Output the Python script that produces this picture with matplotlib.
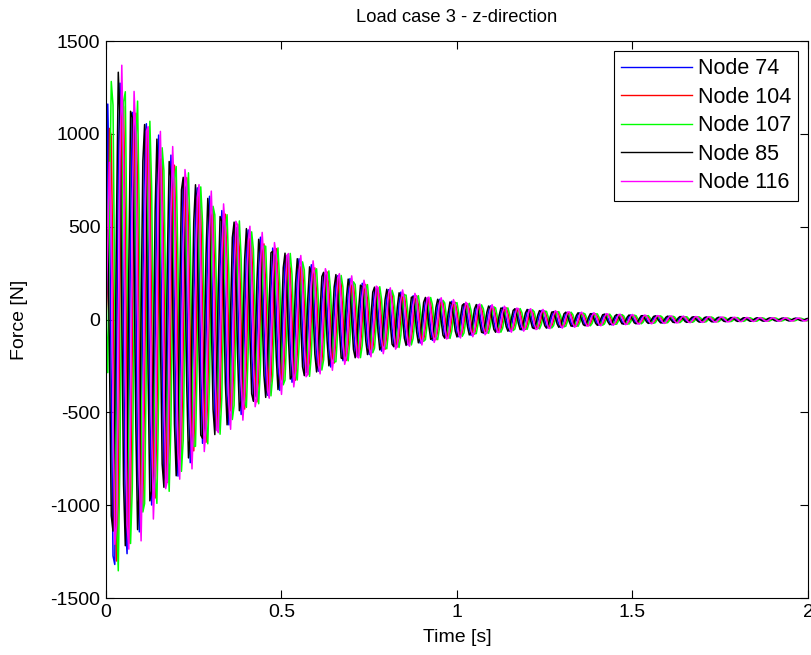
import numpy as np
import matplotlib
matplotlib.use("Agg")
from matplotlib import pyplot as plt

plt.rcParams['font.family'] = ['Liberation Sans', 'DejaVu Sans']
plt.rcParams['axes.unicode_minus'] = False

# values
nodes = ["Node 74", "Node 104", "Node 107", "Node 85", "Node 116"]
colors = ["#0000ff", "#ff0000", "#00ff00", "#000000", "#ff00ff"]
amp_force = [1490, 1450, 1510, 1470, 1560]       # main mode envelope at t=0 [N]
ramp_time = [0.003, 0.008, 0.005, 0.008, 0.012]  # build-up time [s]
decay_rate = [2.75, 2.75, 2.75, 2.75, 2.7]       # envelope decay [1/s]
freq_hz = 27.5                                   # main mode frequency
phase = [0.7, 2.1, 2.8, 0.0, 1.5]                # phase lag [rad]
amp_high = [120, 150, 90, 110, 40]               # early higher mode [N]
freq_high = 61.0                                 # higher mode frequency
decay_high = 14.0                                # higher mode decay [1/s]
dt = 0.005                                       # output step [s]

time = np.arange(0, 2.0 + dt / 2, dt)

fig = plt.figure(figsize=(8.11, 6.55), dpi=100)
ax = fig.add_axes([0.1307, 0.087, 0.8656, 0.8504])

for i, name in enumerate(nodes):
    ramp = 1 - np.exp(-time / ramp_time[i])
    main = amp_force[i] * np.exp(-decay_rate[i] * time) * np.cos(2 * np.pi * freq_hz * time - phase[i])
    high = amp_high[i] * np.exp(-decay_high * time) * np.sin(2 * np.pi * freq_high * time + 2 * phase[i])
    ax.plot(time, ramp * (main + high), color=colors[i], lw=1.1, label=name)

ax.set_xlim(0, 2)
ax.set_ylim(-1500, 1500)
ax.set_xticks([0, 0.5, 1, 1.5, 2])
ax.set_xticklabels(["0", "0.5", "1", "1.5", "2"])
ax.set_yticks(np.arange(-1500, 1501, 500))
ax.tick_params(direction="in", top=True, right=True, labelsize=14, length=6, pad=4)
ax.set_xlabel("Time [s]", fontsize=14, labelpad=6)
ax.set_ylabel("Force [N]", fontsize=14, labelpad=16)
ax.set_title("Load case 3 - z-direction", fontsize=13.2, pad=14)

leg = ax.legend(loc="upper right", fontsize=15.5, fancybox=False, framealpha=1,
                edgecolor="black", handlelength=3.3, handletextpad=0.25,
                borderaxespad=0.45, labelspacing=0.35, borderpad=0.35)
leg.get_frame().set_linewidth(0.8)
for line in leg.get_lines():
    line.set_linewidth(1.0)

fig.savefig("out.png", dpi=100)
